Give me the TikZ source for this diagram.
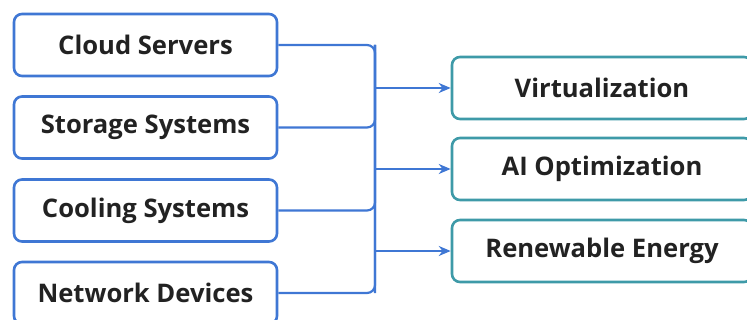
\documentclass[tikz,border=0pt]{standalone}
\usepackage{fontspec}
\setmainfont{Open Sans}
\usepackage{tikz}
\usetikzlibrary{arrows.meta,positioning}
\definecolor{srcblue}{HTML}{3F77D4}
\definecolor{trgteal}{HTML}{3E9AA8}
\definecolor{txtdark}{HTML}{222222}
\tikzset{
  srcbox/.style={draw=srcblue, line width=1.3pt, rounded corners=4pt, fill=white,
    minimum width=131.5pt, minimum height=31pt, text=txtdark, font=\bfseries\fontsize{12.8}{14}\selectfont},
  trgbox/.style={draw=trgteal, line width=1.3pt, rounded corners=4pt, fill=white,
    minimum width=150pt, minimum height=31pt, text=txtdark, font=\bfseries\fontsize{12.8}{14}\selectfont},
  link/.style={draw=srcblue, line width=1.1pt, rounded corners=4pt},
  flow/.style={link, -{Stealth[length=6pt,width=5pt]}}
}
\begin{document}
\begin{tikzpicture}[x=0.5pt,y=-0.5pt]
\useasboundingbox (0,0) rectangle (747,320);
% sources
\node[srcbox] (cloud) at (145.5,45) {Cloud Servers};
\node[srcbox] (storage) at (145.5,127.5) {Storage Systems};
\node[srcbox] (cooling) at (145.5,210.5) {Cooling Systems};
\node[srcbox] (network) at (145.5,293) {Network Devices};
% targets
\node[trgbox] (virt) at (602,88) {Virtualization};
\node[trgbox] (aiopt) at (602,169) {AI Optimization};
\node[trgbox] (energy) at (602,251) {Renewable Energy};
% bus
\coordinate (bustop) at (375,45);
\coordinate (busbot) at (375,293);
\draw[link] (cloud.east) -| (busbot);
\draw[link] (storage.east) -| (bustop);
\draw[link] (cooling.east) -| (bustop);
\draw[link] (network.east) -| (bustop);
\draw[flow] (375,88) -- (virt.west);
\draw[flow] (375,169) -- (aiopt.west);
\draw[flow] (375,251) -- (energy.west);
\end{tikzpicture}
\end{document}
